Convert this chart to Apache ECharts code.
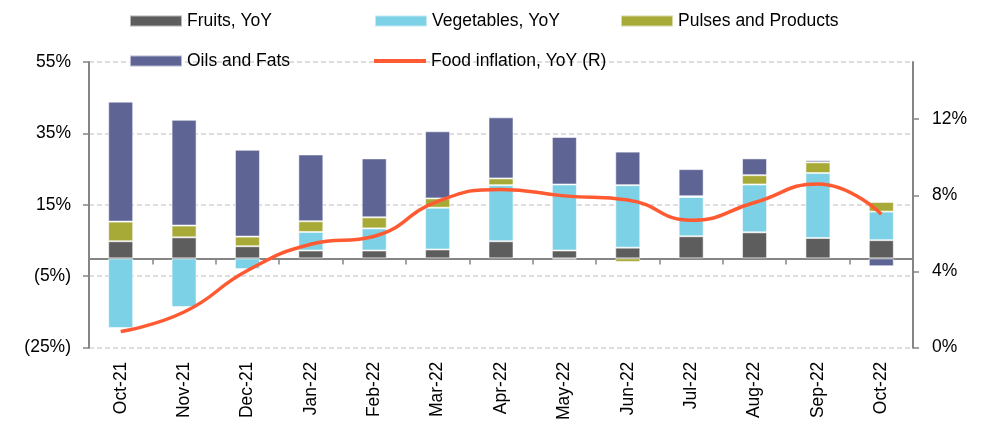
<!DOCTYPE html>
<html>
<head>
<meta charset="utf-8">
<script src="https://cdn.jsdelivr.net/npm/echarts@6/dist/echarts.min.js"></script>
<style>
  html, body { margin: 0; padding: 0; background: #fff; }
  #chart { width: 982px; height: 423px; }
</style>
</head>
<body>
<div id="chart"></div>
<script>
// months on the x axis
var months = ['Oct-21','Nov-21','Dec-21','Jan-22','Feb-22','Mar-22','Apr-22','May-22','Jun-22','Jul-22','Aug-22','Sep-22','Oct-22'];
// contributions, % (left axis)
var fruits     = [4.8, 5.9, 3.4, 2.2, 2.2, 2.5, 4.8, 2.2, 3.0, 6.2, 7.3, 5.7, 5.1];
var vegetables = [-19.5, -13.6, -3.0, 5.2, 6.2, 11.7, 15.7, 18.5, 17.5, 11.0, 13.4, 18.2, 8.0];
var pulses     = [5.5, 3.3, 2.7, 3.0, 3.1, 2.6, 1.9, -0.3, -1.0, 0.2, 2.6, 3.0, 2.7];
var oils       = [33.6, 29.6, 24.3, 18.7, 16.5, 18.8, 17.1, 13.3, 9.4, 7.6, 4.7, 0.6, -2.2];
// food inflation, % (right axis)
var foodInfl   = [0.85, 1.87, 4.05, 5.43, 5.85, 7.68, 8.31, 7.97, 7.75, 6.69, 7.62, 8.60, 7.01];
// tick values
var leftTicks  = [-25, -5, 15, 35, 55];
var rightTicks = [0, 4, 8, 12];

var FONT = 'Liberation Sans, Arial, sans-serif';
var FS = 17.5;
var AXIS_GREY = '#858585';

var chart = echarts.init(document.getElementById('chart'));

function legendAt(name, left, top, opts) {
    var l = {
        data: [name],
        left: left,
        top: top,
        padding: 0,
        itemWidth: 52,
        itemHeight: 11,
        icon: 'rect',
        selectedMode: false,
        textStyle: { fontFamily: FONT, fontSize: FS, color: '#000', lineHeight: 20 }
    };
    if (opts) { for (var k in opts) l[k] = opts[k]; }
    return l;
}

function barSeries(name, data, color) {
    return {
        name: name,
        type: 'bar',
        stack: 'food',
        xAxisIndex: 0,
        yAxisIndex: 0,
        barWidth: 25,
        data: data,
        itemStyle: { color: color, borderColor: 'rgba(255,255,255,0.55)', borderWidth: 1 }
    };
}

chart.setOption({
    animation: false,
    textStyle: { fontFamily: FONT },
    legend: [
        legendAt('Fruits, YoY', 129, 11),
        legendAt('Vegetables, YoY', 374, 11),
        legendAt('Pulses and Products', 620, 11),
        legendAt('Oils and Fats', 129, 51),
        legendAt('Food inflation, YoY (R)', 374, 51, { itemHeight: 4 })
    ],
    grid: { left: 89, right: 69, top: 62, bottom: 75 },
    xAxis: [
        {
            type: 'category',
            data: months,
            axisLine: { onZero: true, onZeroAxisIndex: 0, lineStyle: { color: AXIS_GREY, width: 2, type: 'solid' } },
            axisTick: { show: true, length: 6, lineStyle: { color: AXIS_GREY, width: 1.5 } },
            axisLabel: { show: false },
            splitLine: { show: false },
            splitArea: { show: false }
        },
        {
            type: 'category',
            data: months,
            position: 'bottom',
            axisLine: { show: false, onZero: false },
            axisTick: { show: false },
            axisLabel: { rotate: 90, margin: 14, fontSize: FS, color: '#000', fontFamily: FONT },
            splitLine: { show: false },
            splitArea: { show: false }
        }
    ],
    yAxis: [
        {
            type: 'value',
            min: leftTicks[0],
            max: leftTicks[leftTicks.length - 1],
            interval: 20,
            axisLine: { show: true, lineStyle: { color: AXIS_GREY, width: 2, type: 'solid' } },
            axisTick: { show: true, length: 6, lineStyle: { color: AXIS_GREY, width: 1.5 } },
            axisLabel: {
                margin: 18, fontSize: FS, color: '#000', fontFamily: FONT,
                formatter: function (v) { return v < 0 ? '(' + (-v) + '%)' : v + '%'; }
            },
            splitLine: { show: true, lineStyle: { color: '#d4d4d4', width: 1.5, type: [5, 3] } }
        },
        {
            type: 'value',
            min: 0,
            max: 15,
            interval: 4,
            position: 'right',
            axisLine: { show: true, lineStyle: { color: AXIS_GREY, width: 2, type: 'solid' } },
            axisTick: { show: true, length: 6, customValues: rightTicks, lineStyle: { color: AXIS_GREY, width: 1.5 } },
            axisLabel: {
                margin: 19, fontSize: FS, color: '#000', fontFamily: FONT,
                customValues: rightTicks,
                formatter: function (v) { return v + '%'; }
            },
            splitLine: { show: false }
        }
    ],
    series: [
        barSeries('Fruits, YoY', fruits, '#5d5d5e'),
        barSeries('Vegetables, YoY', vegetables, '#7dd1e6'),
        barSeries('Pulses and Products', pulses, '#a8aa38'),
        barSeries('Oils and Fats', oils, '#5e6594'),
        {
            name: 'Food inflation, YoY (R)',
            type: 'line',
            xAxisIndex: 0,
            yAxisIndex: 1,
            smooth: 0.5,
            showSymbol: false,
            symbol: 'none',
            data: foodInfl,
            z: 5,
            itemStyle: { color: '#ff5a32' },
            lineStyle: { color: '#ff5a32', width: 3.5 }
        }
    ]
});
</script>
</body>
</html>
